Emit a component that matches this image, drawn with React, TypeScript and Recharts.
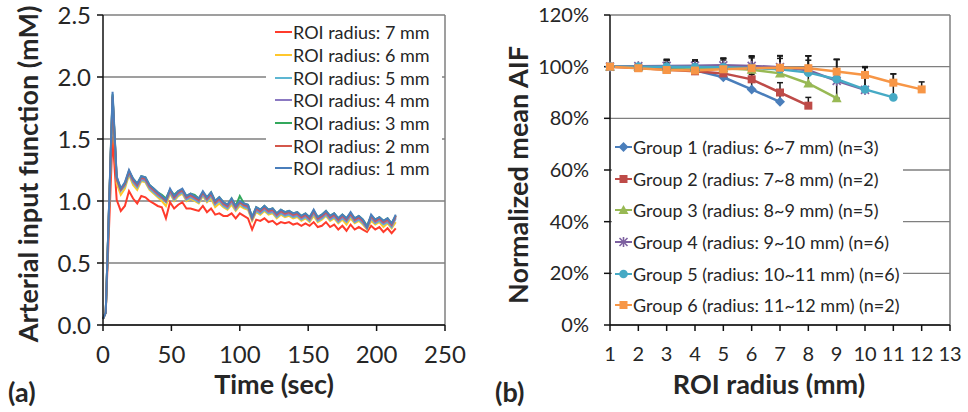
import React from "react";
import {
  LineChart,
  Line,
  XAxis,
  YAxis,
  CartesianGrid,
  ReferenceLine,
  ErrorBar,
  Legend,
} from "recharts";

const FONT = "Lato, 'Open Sans', Arial, sans-serif";
const TEXT = "#262626";
const GRID = "#7f7f7f";
const AXIS = "#111";

// ---------- (a) arterial input function vs time ----------
const timeSec = [
  0, 2, 7, 10, 13, 16, 19, 22, 25, 28, 31, 34,
  37, 40, 43, 46, 49, 52, 55, 58, 61, 64, 67, 70,
  73, 76, 79, 82, 85, 88, 91, 94, 97, 100, 103, 106,
  109, 112, 115, 118, 121, 124, 127, 130, 133, 136, 139, 142,
  145, 148, 151, 154, 157, 160, 163, 166, 169, 172, 175, 178,
  181, 184, 187, 190, 193, 196, 199, 202, 205, 208, 211, 214,
];

const roi7mm = [
  0.05, 0.10, 1.52, 1.01, 0.92, 0.96, 1.08, 1.02, 0.98, 1.04, 1.03, 1.00,
  0.98, 0.96, 0.95, 0.86, 0.99, 0.94, 0.97, 0.99, 0.94, 0.94, 0.93, 0.92,
  0.96, 0.91, 0.94, 0.89, 0.90, 0.88, 0.88, 0.90, 0.86, 0.90, 0.88, 0.86,
  0.77, 0.85, 0.84, 0.86, 0.83, 0.84, 0.81, 0.83, 0.82, 0.83, 0.81, 0.82,
  0.80, 0.82, 0.80, 0.83, 0.79, 0.80, 0.83, 0.79, 0.81, 0.77, 0.80, 0.76,
  0.81, 0.77, 0.79, 0.77, 0.75, 0.80, 0.77, 0.79, 0.75, 0.78, 0.74, 0.78,
];
const roi6mm = [
  0.05, 0.10, 1.80, 1.14, 1.05, 1.10, 1.21, 1.13, 1.09, 1.16, 1.15, 1.09,
  1.06, 1.03, 1.00, 0.96, 1.06, 1.00, 1.04, 1.06, 1.00, 1.02, 1.00, 0.98,
  1.04, 0.99, 1.02, 0.95, 0.98, 0.95, 0.93, 0.97, 0.92, 0.96, 0.94, 0.93,
  0.84, 0.91, 0.89, 0.92, 0.89, 0.90, 0.86, 0.89, 0.87, 0.88, 0.86, 0.87,
  0.84, 0.86, 0.83, 0.88, 0.83, 0.85, 0.88, 0.84, 0.86, 0.82, 0.85, 0.81,
  0.86, 0.82, 0.84, 0.81, 0.77, 0.84, 0.81, 0.83, 0.79, 0.82, 0.78, 0.83,
];
const roi5mm = [
  0.05, 0.10, 1.84, 1.17, 1.08, 1.12, 1.22, 1.15, 1.11, 1.17, 1.16, 1.10,
  1.07, 1.04, 1.02, 0.99, 1.07, 1.01, 1.05, 1.07, 1.01, 1.03, 1.01, 0.99,
  1.05, 1.00, 1.04, 0.97, 1.00, 0.96, 0.94, 0.99, 0.93, 0.98, 0.95, 0.94,
  0.85, 0.92, 0.90, 0.93, 0.90, 0.91, 0.87, 0.90, 0.88, 0.89, 0.87, 0.88,
  0.85, 0.87, 0.84, 0.90, 0.84, 0.86, 0.89, 0.85, 0.87, 0.83, 0.86, 0.83,
  0.88, 0.83, 0.85, 0.82, 0.78, 0.86, 0.82, 0.84, 0.81, 0.83, 0.79, 0.86,
];
const roi4mm = [
  0.05, 0.10, 1.85, 1.18, 1.09, 1.13, 1.23, 1.16, 1.12, 1.18, 1.17, 1.11,
  1.08, 1.05, 1.03, 1.00, 1.08, 1.02, 1.06, 1.08, 1.02, 1.04, 1.02, 1.00,
  1.06, 1.01, 1.05, 0.98, 1.01, 0.97, 0.95, 1.00, 0.94, 0.99, 0.96, 0.95,
  0.86, 0.93, 0.91, 0.94, 0.91, 0.92, 0.88, 0.91, 0.89, 0.90, 0.88, 0.89,
  0.86, 0.88, 0.85, 0.91, 0.85, 0.87, 0.90, 0.86, 0.88, 0.84, 0.87, 0.84,
  0.89, 0.84, 0.86, 0.83, 0.78, 0.87, 0.83, 0.85, 0.82, 0.84, 0.80, 0.87,
];
const roi3mm = [
  0.05, 0.10, 1.86, 1.19, 1.10, 1.14, 1.24, 1.18, 1.14, 1.20, 1.19, 1.13,
  1.10, 1.07, 1.05, 1.02, 1.09, 1.05, 1.08, 1.09, 1.04, 1.06, 1.05, 1.02,
  1.07, 1.03, 1.07, 1.00, 1.03, 0.99, 0.97, 1.02, 0.96, 1.04, 0.98, 0.97,
  0.87, 0.95, 0.93, 0.96, 0.93, 0.94, 0.90, 0.93, 0.91, 0.92, 0.90, 0.91,
  0.88, 0.90, 0.87, 0.92, 0.87, 0.89, 0.92, 0.88, 0.90, 0.86, 0.89, 0.86,
  0.90, 0.86, 0.88, 0.85, 0.80, 0.88, 0.85, 0.87, 0.84, 0.86, 0.82, 0.88,
];
const roi2mm = [
  0.05, 0.10, 1.84, 1.18, 1.09, 1.14, 1.24, 1.17, 1.13, 1.19, 1.18, 1.12,
  1.09, 1.06, 1.03, 1.00, 1.09, 1.03, 1.07, 1.09, 1.03, 1.05, 1.03, 1.01,
  1.07, 1.02, 1.06, 0.99, 1.02, 0.98, 0.96, 1.01, 0.95, 0.99, 0.97, 0.96,
  0.86, 0.94, 0.92, 0.95, 0.92, 0.93, 0.89, 0.92, 0.90, 0.91, 0.89, 0.90,
  0.87, 0.89, 0.86, 0.92, 0.86, 0.88, 0.91, 0.87, 0.89, 0.85, 0.88, 0.85,
  0.90, 0.85, 0.87, 0.84, 0.79, 0.88, 0.84, 0.86, 0.83, 0.85, 0.81, 0.88,
];
const roi1mm = [
  0.05, 0.10, 1.88, 1.20, 1.10, 1.15, 1.25, 1.18, 1.14, 1.20, 1.19, 1.13,
  1.10, 1.07, 1.04, 1.01, 1.10, 1.04, 1.08, 1.10, 1.04, 1.06, 1.04, 1.02,
  1.08, 1.03, 1.07, 1.00, 1.03, 0.99, 0.97, 1.02, 0.96, 1.00, 0.98, 0.97,
  0.87, 0.95, 0.93, 0.96, 0.93, 0.94, 0.90, 0.93, 0.91, 0.92, 0.90, 0.91,
  0.88, 0.90, 0.87, 0.93, 0.87, 0.89, 0.92, 0.88, 0.90, 0.86, 0.89, 0.86,
  0.91, 0.86, 0.88, 0.85, 0.79, 0.89, 0.85, 0.87, 0.84, 0.86, 0.82, 0.89,
];

const aifSeries = [
  { key: "r7", name: "ROI radius: 7 mm", color: "#FF3B2B", values: roi7mm },
  { key: "r6", name: "ROI radius: 6 mm", color: "#FFC72C", values: roi6mm },
  { key: "r5", name: "ROI radius: 5 mm", color: "#5DB6D2", values: roi5mm },
  { key: "r4", name: "ROI radius: 4 mm", color: "#8B79C2", values: roi4mm },
  { key: "r3", name: "ROI radius: 3 mm", color: "#33A85C", values: roi3mm },
  { key: "r2", name: "ROI radius: 2 mm", color: "#D4574B", values: roi2mm },
  { key: "r1", name: "ROI radius: 1 mm", color: "#4A7EBB", values: roi1mm },
];

const aifTicksX = [0, 50, 100, 150, 200, 250];
const aifTicksY = [0, 0.5, 1, 1.5, 2, 2.5];

const aifRows = timeSec.map((t, i) => {
  const row: Record<string, number> = { t };
  aifSeries.forEach((s) => {
    row[s.key] = s.values[i];
  });
  return row;
});

// ---------- (b) normalized mean AIF vs ROI radius ----------
const radiusMm = [1, 2, 3, 4, 5, 6, 7, 8, 9, 10, 11, 12];
const radiusTicks = [1, 2, 3, 4, 5, 6, 7, 8, 9, 10, 11, 12, 13];
const percentTicks = [0, 20, 40, 60, 80, 100, 120];

const group1Mean = [100, 100, 99.6, 98.6, 95.9, 91.2, 86.4];
const group1Err = [0, 0.8, 2.0, 2.4, 3.0, 5.8, 3.0];
const group2Mean = [100, 99.5, 98.8, 98.2, 97.4, 95.1, 90.0, 84.9];
const group2Err = [0, 0.6, 1.2, 1.5, 2.0, 2.6, 3.8, 3.2];
const group3Mean = [100, 100, 99.8, 99.6, 99.4, 98.8, 97.4, 93.5, 87.8];
const group3Err = [0, 0.9, 2.6, 2.5, 3.2, 4.6, 5.8, 9.0, 8.5];
const group4Mean = [100, 100.2, 100.3, 100.4, 100.5, 100.3, 99.8, 98.6, 94.5, 91.0];
const group4Err = [0, 0.6, 2.5, 2.2, 2.7, 3.6, 4.4, 5.6, 8.3, 8.6];
const group5Mean = [100, 100, 100, 99.9, 99.8, 99.5, 99.0, 97.7, 95.1, 91.2, 88.1];
const group5Err = [0, 0.8, 2.8, 2.7, 3.4, 4.5, 5.2, 6.5, 7.7, 8.8, 9.1];
const group6Mean = [100, 99.4, 98.7, 98.5, 99.0, 99.4, 99.6, 99.4, 98.1, 96.8, 93.8, 91.2];
const group6Err = [0, 1.6, 3.8, 3.8, 4.3, 4.8, 4.7, 4.8, 4.7, 3.2, 3.4, 2.9];

const groups = [
  { key: "g1", name: "Group 1 (radius: 6~7 mm) (n=3)", color: "#4A7EBB", shape: "diamond", mean: group1Mean, err: group1Err },
  { key: "g2", name: "Group 2 (radius: 7~8 mm) (n=2)", color: "#BE4B48", shape: "square", mean: group2Mean, err: group2Err },
  { key: "g3", name: "Group 3 (radius: 8~9 mm) (n=5)", color: "#98B954", shape: "triangle", mean: group3Mean, err: group3Err },
  { key: "g4", name: "Group 4 (radius: 9~10 mm) (n=6)", color: "#7D60A0", shape: "star", mean: group4Mean, err: group4Err },
  { key: "g5", name: "Group 5 (radius: 10~11 mm) (n=6)", color: "#46AAC5", shape: "circle", mean: group5Mean, err: group5Err },
  { key: "g6", name: "Group 6 (radius: 11~12 mm) (n=2)", color: "#F79646", shape: "square", mean: group6Mean, err: group6Err },
];

const groupRows = radiusMm.map((r, i) => {
  const row: Record<string, any> = { r };
  groups.forEach((g) => {
    row[g.key] = i < g.mean.length ? g.mean[i] : null;
    if (i > 0 && i < g.err.length) row[g.key + "e"] = [0, g.err[i]];
  });
  return row;
});

function Marker({ cx, cy, shape, color }: any) {
  if (cx == null || cy == null || Number.isNaN(cy)) return <g />;
  switch (shape) {
    case "diamond":
      return <polygon points={`${cx},${cy - 5} ${cx + 5},${cy} ${cx},${cy + 5} ${cx - 5},${cy}`} fill={color} />;
    case "square":
      return <rect x={cx - 4} y={cy - 4} width={8} height={8} fill={color} />;
    case "triangle":
      return <polygon points={`${cx},${cy - 5} ${cx + 5},${cy + 4} ${cx - 5},${cy + 4}`} fill={color} />;
    case "star":
      return (
        <g stroke={color} strokeWidth={1.6}>
          <line x1={cx - 4} y1={cy - 4} x2={cx + 4} y2={cy + 4} />
          <line x1={cx - 4} y1={cy + 4} x2={cx + 4} y2={cy - 4} />
          <line x1={cx} y1={cy - 5} x2={cx} y2={cy + 5} />
        </g>
      );
    default:
      return <circle cx={cx} cy={cy} r={4.3} fill={color} />;
  }
}

function AifLegend() {
  return (
    <div style={{ background: "#fff", paddingTop: 2 }}>
      {aifSeries.map((s) => (
        <div
          key={s.key}
          style={{ display: "flex", alignItems: "center", height: 22.7, fontSize: 18, color: TEXT, whiteSpace: "nowrap" }}
        >
          <svg width={27} height={10}>
            <line x1={9} x2={26} y1={5} y2={5} stroke={s.color} strokeWidth={2} />
          </svg>
          <span>{s.name}</span>
        </div>
      ))}
    </div>
  );
}

function GroupLegend() {
  return (
    <div style={{ background: "#fff", paddingTop: 3 }}>
      {groups.map((g) => (
        <div
          key={g.key}
          style={{ display: "flex", alignItems: "center", height: 31.7, fontSize: 18, color: TEXT, whiteSpace: "nowrap" }}
        >
          <svg width={21} height={12}>
            <line x1={3} x2={20} y1={6} y2={6} stroke={g.color} strokeWidth={2} />
            <Marker cx={11.5} cy={6} shape={g.shape} color={g.color} />
          </svg>
          <span>{g.name}</span>
        </div>
      ))}
    </div>
  );
}

function AifChart() {
  return (
    <LineChart width={480} height={412} data={aifRows} margin={{ top: 15, right: 35, bottom: 0, left: 0 }}>
      <CartesianGrid vertical={false} stroke={GRID} strokeWidth={1.3} />
      <XAxis
        dataKey="t"
        type="number"
        domain={[0, 250]}
        ticks={aifTicksX}
        interval={0}
        height={87}
        stroke={AXIS}
        strokeWidth={1.5}
        tickSize={6}
        tickMargin={15}
        tick={{ fill: TEXT, fontSize: 24, fontFamily: FONT }}
        label={{
          content: () => (
            <text x={274} y={394} textAnchor="middle" fill={TEXT} fontSize={27} fontWeight={700} fontFamily={FONT}>
              Time (sec)
            </text>
          ),
        }}
      />
      <YAxis
        type="number"
        domain={[0, 2.5]}
        ticks={aifTicksY}
        interval={0}
        width={103}
        stroke={AXIS}
        strokeWidth={1.5}
        tickSize={6}
        tickMargin={6}
        tickFormatter={(v: number) => v.toFixed(1)}
        tick={{ fill: TEXT, fontSize: 24, fontFamily: FONT }}
        label={{
          content: () => (
            <text
              x={38}
              y={174}
              transform="rotate(-90, 38, 174)"
              textAnchor="middle"
              fill={TEXT}
              fontSize={27}
              fontWeight={700}
              fontFamily={FONT}
            >
              Arterial input function (mM)
            </text>
          ),
        }}
      />
      <ReferenceLine x={250} stroke={GRID} strokeWidth={1.5} />
      {aifSeries.map((s) => (
        <Line
          key={s.key}
          dataKey={s.key}
          name={s.name}
          stroke={s.color}
          strokeWidth={2}
          dot={false}
          activeDot={false}
          isAnimationActive={false}
        />
      ))}
      <Legend
        layout="vertical"
        align="center"
        verticalAlign="middle"
        wrapperStyle={{ left: 266, top: 19, width: 176, height: 161 }}
        content={() => <AifLegend />}
      />
    </LineChart>
  );
}

function GroupChart() {
  return (
    <LineChart width={478} height={412} data={groupRows} margin={{ top: 15, right: 18, bottom: 0, left: 0 }}>
      <CartesianGrid vertical={false} stroke={GRID} strokeWidth={1.3} />
      <XAxis
        dataKey="r"
        type="number"
        domain={[1, 13]}
        ticks={radiusTicks}
        interval={0}
        height={87}
        stroke={AXIS}
        strokeWidth={1.5}
        tickSize={6}
        tickMargin={16}
        tick={{ fill: TEXT, fontSize: 20, fontFamily: FONT }}
        label={{
          content: () => (
            <text x={279} y={394} textAnchor="middle" fill={TEXT} fontSize={27} fontWeight={700} fontFamily={FONT}>
              ROI radius (mm)
            </text>
          ),
        }}
      />
      <YAxis
        type="number"
        domain={[0, 120]}
        ticks={percentTicks}
        interval={0}
        width={120}
        stroke={AXIS}
        strokeWidth={1.5}
        tickSize={6}
        tickMargin={15}
        tickFormatter={(v: number) => `${v}%`}
        tick={{ fill: TEXT, fontSize: 20, fontFamily: FONT }}
        label={{
          content: () => (
            <text
              x={38}
              y={175}
              transform="rotate(-90, 38, 175)"
              textAnchor="middle"
              fill={TEXT}
              fontSize={27}
              fontWeight={700}
              fontFamily={FONT}
            >
              Normalized mean AIF
            </text>
          ),
        }}
      />
      <ReferenceLine x={13} stroke={GRID} strokeWidth={1.5} />
      {groups.map((g) => (
        <Line
          key={g.key}
          dataKey={g.key}
          name={g.name}
          stroke={g.color}
          strokeWidth={2.5}
          activeDot={false}
          isAnimationActive={false}
          dot={(p: any) => <Marker key={`${g.key}-${p.index}`} cx={p.cx} cy={p.cy} shape={g.shape} color={g.color} />}
        >
          <ErrorBar dataKey={g.key + "e"} direction="y" width={3} stroke="#1a1a1a" strokeWidth={1.5} />
        </Line>
      ))}
      <Legend
        layout="vertical"
        align="center"
        verticalAlign="middle"
        wrapperStyle={{ left: 122, top: 128, width: 291, height: 193 }}
        content={() => <GroupLegend />}
      />
    </LineChart>
  );
}

export default function App() {
  return (
    <div
      style={{
        position: "absolute",
        left: 0,
        top: 0,
        width: 968,
        height: 412,
        background: "#fff",
        fontFamily: FONT,
        overflow: "hidden",
      }}
    >
      <div style={{ position: "absolute", left: 0, top: 0 }}>
        <AifChart />
      </div>
      <div style={{ position: "absolute", left: 490, top: 0 }}>
        <GroupChart />
      </div>
      <div style={{ position: "absolute", left: 8, top: 375, fontSize: 27, fontWeight: 700, color: TEXT }}>(a)</div>
      <div style={{ position: "absolute", left: 495, top: 375, fontSize: 27, fontWeight: 700, color: TEXT }}>(b)</div>
    </div>
  );
}
